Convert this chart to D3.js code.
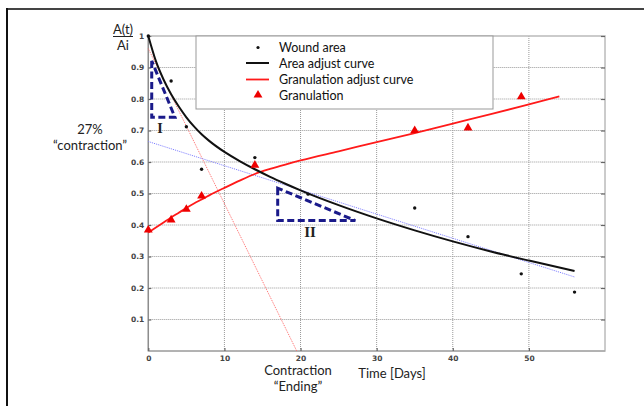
<!DOCTYPE html>
<html><head><meta charset="utf-8">
<script src="https://cdn.jsdelivr.net/npm/d3@7"></script>
<style>
html,body{margin:0;padding:0;background:#fff;}
svg{display:block;}
</style></head>
<body>
<svg id="c" width="644" height="406"></svg>
<script>
// ---- data ----
const xTicks = [0, 10, 20, 30, 40, 50];
const yTicks = [0.1, 0.2, 0.3, 0.4, 0.5, 0.6, 0.7, 0.8, 0.9, 1];
const woundDays = [0, 3, 5, 7, 14, 21, 35, 42, 49, 56];
const woundArea = [1, 0.857, 0.712, 0.577, 0.614, 0.498, 0.454, 0.363, 0.245, 0.187];
const granDays = [0, 3, 5, 7, 14, 35, 42, 49];
const granValues = [0.384, 0.416, 0.45, 0.492, 0.59, 0.70, 0.708, 0.807];
const areaFitDays = [0, 1, 2, 3, 4, 5, 6, 7, 8, 10, 12, 14, 16, 18, 20, 25, 30, 35, 40, 45, 50, 56];
const areaFitValues = [1, 0.92, 0.862, 0.815, 0.776, 0.742, 0.713, 0.688, 0.667, 0.632, 0.603, 0.577, 0.553, 0.531, 0.51, 0.463, 0.421, 0.383, 0.348, 0.316, 0.287, 0.254];
const granFitDays = [0, 1, 2, 3, 4, 5, 6, 7, 8, 10, 12, 14, 16, 18, 20, 25, 30, 35, 40, 45, 50, 54];
const granFitValues = [0.376, 0.392, 0.408, 0.424, 0.439, 0.454, 0.468, 0.481, 0.494, 0.518, 0.541, 0.562, 0.578, 0.592, 0.605, 0.634, 0.663, 0.692, 0.722, 0.752, 0.783, 0.808];
const blueTrendDays = [0, 56];
const blueTrendValues = [0.665, 0.235];
const redTrendDays = [0, 19.5];
const redTrendValues = [0.96, 0];
const triangleIDays = [0.45, 0.45, 3.5];
const triangleIValues = [0.921, 0.742, 0.742];
const triangleIIDays = [17.0, 17.0, 27.2];
const triangleIIValues = [0.517, 0.414, 0.414];
const legendLabels = ["Wound area", "Area adjust curve", "Granulation adjust curve", "Granulation"];

// ---- layout ----
const svg = d3.select("#c");
const L = 148.3, R = 605, T = 36, B = 351;
const x = d3.scaleLinear().domain([0, 60]).range([L, R]);
const y = d3.scaleLinear().domain([0, 1]).range([B, T]);
const TEXT_FONT = "Lato, 'Open Sans', sans-serif";

// outer frame (partially visible)
svg.append("line").attr("x1", 7).attr("x2", 644).attr("y1", 9).attr("y2", 9).attr("stroke", "#444").attr("stroke-width", 2);
svg.append("line").attr("x1", 7).attr("x2", 7).attr("y1", 8).attr("y2", 406).attr("stroke", "#111").attr("stroke-width", 2);

// grid
const g = svg.append("g");
g.selectAll("line.vg").data(xTicks.filter(d => d > 0)).join("line")
  .attr("x1", d => x(d)).attr("x2", d => x(d)).attr("y1", T).attr("y2", B)
  .attr("stroke", "#999").attr("stroke-width", 1).attr("stroke-dasharray", "1,1");
g.selectAll("line.hg").data(yTicks.filter(d => d < 1)).join("line")
  .attr("x1", L).attr("x2", R).attr("y1", d => y(d)).attr("y2", d => y(d))
  .attr("stroke", "#999").attr("stroke-width", 1).attr("stroke-dasharray", "1,1");

// box
svg.append("rect").attr("x", L).attr("y", T).attr("width", R - L).attr("height", B - T)
  .attr("fill", "none").attr("stroke", "#bbb").attr("stroke-width", 1.5);
svg.append("line").attr("x1", L).attr("x2", L).attr("y1", T).attr("y2", B).attr("stroke", "#888").attr("stroke-width", 1.2);
svg.append("line").attr("x1", L).attr("x2", R).attr("y1", B).attr("y2", B).attr("stroke", "#999").attr("stroke-width", 1.2);

// axes
const fmtY = d => d === 1 ? "1" : d3.format(".1f")(d);
const yAxis = d3.axisLeft(y).tickValues(yTicks).tickFormat(fmtY).tickSize(-3).tickPadding(4);
const ya = svg.append("g").attr("transform", `translate(${L},0)`).call(yAxis);
const yAxisR = d3.axisRight(y).tickValues(yTicks).tickFormat("").tickSize(-4);
const yar = svg.append("g").attr("transform", `translate(${R},0)`).call(yAxisR);
const xAxis = d3.axisBottom(x).tickValues(xTicks).tickFormat(d3.format("d")).tickSize(-3).tickPadding(5);
const xa = svg.append("g").attr("transform", `translate(0,${B})`).call(xAxis);
[ya, yar, xa].forEach(a => {
  a.select(".domain").remove();
  a.selectAll(".tick line").attr("stroke", "#666").attr("stroke-width", 1.2);
  a.selectAll("text").attr("font-family", "DejaVu Sans, sans-serif").attr("font-size", 7.5)
    .attr("font-weight", "bold").attr("fill", "#444");
});

// lines
const line = d3.line().x(d => x(d[0])).y(d => y(d[1])).curve(d3.curveMonotoneX);
const straight = d3.line().x(d => x(d[0])).y(d => y(d[1]));
const zip = (a, b) => a.map((v, i) => [v, b[i]]);

svg.append("path").datum(zip(redTrendDays, redTrendValues)).attr("d", straight)
  .attr("fill", "none").attr("stroke", "#ff6b6b").attr("stroke-width", 1).attr("stroke-dasharray", "1,1");
svg.append("path").datum(zip(blueTrendDays, blueTrendValues)).attr("d", straight)
  .attr("fill", "none").attr("stroke", "#7b7bff").attr("stroke-width", 1).attr("stroke-dasharray", "1,1");
svg.append("path").datum(zip(granFitDays, granFitValues)).attr("d", line)
  .attr("fill", "none").attr("stroke", "#ff1a1a").attr("stroke-width", 1.8);
svg.append("path").datum(zip(areaFitDays, areaFitValues)).attr("d", line)
  .attr("fill", "none").attr("stroke", "#111").attr("stroke-width", 2);

// dashed triangles
const triStyle = sel => sel.attr("fill", "none").attr("stroke", "#1a1a8a").attr("stroke-width", 3)
  .attr("stroke-dasharray", "7,3.5").attr("stroke-linejoin", "miter");
svg.append("path").datum(zip(triangleIDays, triangleIValues))
  .attr("d", d => straight(d) + "Z").call(triStyle);
svg.append("path").datum(zip(triangleIIDays, triangleIIValues))
  .attr("d", d => straight(d) + "Z").call(triStyle);
svg.append("text").attr("x", 160).attr("y", 133).attr("text-anchor", "middle")
  .attr("font-family", "Liberation Serif, serif").attr("font-size", 14).attr("font-weight", "bold").attr("fill", "#222").text("I");
svg.append("text").attr("x", 310).attr("y", 237).attr("text-anchor", "middle")
  .attr("font-family", "Liberation Serif, serif").attr("font-size", 15).attr("font-weight", "bold").attr("fill", "#222").text("II");

// points
const triSym = d3.symbol().type(d3.symbolTriangle).size(34);
svg.selectAll("path.gran").data(zip(granDays, granValues)).join("path").attr("class", "gran")
  .attr("d", triSym).attr("transform", d => `translate(${x(d[0])},${y(d[1])})`).attr("fill", "#ee0000");
svg.selectAll("circle.w").data(zip(woundDays, woundArea)).join("circle").attr("class", "w")
  .attr("cx", d => x(d[0])).attr("cy", d => y(d[1])).attr("r", 1.7).attr("fill", "#111");

// legend
const lg = svg.append("g");
lg.append("rect").attr("x", 196).attr("y", T).attr("width", 297).attr("height", 73)
  .attr("fill", "#fff").attr("stroke", "#999").attr("stroke-width", 1);
const ly = [47.5, 63, 79.5, 95];
lg.append("circle").attr("cx", 258).attr("cy", ly[0]).attr("r", 1.6).attr("fill", "#111");
lg.append("line").attr("x1", 246).attr("x2", 269).attr("y1", ly[1]).attr("y2", ly[1]).attr("stroke", "#111").attr("stroke-width", 2);
lg.append("line").attr("x1", 246).attr("x2", 269).attr("y1", ly[2]).attr("y2", ly[2]).attr("stroke", "#ff1a1a").attr("stroke-width", 1.8);
lg.append("path").attr("d", triSym).attr("transform", `translate(258,${ly[3]})`).attr("fill", "#ee0000");
lg.selectAll("text").data(legendLabels).join("text")
  .attr("x", 279).attr("y", (d, i) => ly[i] + 4.5)
  .attr("font-family", TEXT_FONT).attr("font-size", 12.5).attr("fill", "#111").text(d => d);

// annotations
const ann = (t, xx, yy) => svg.append("text").attr("x", xx).attr("y", yy)
  .attr("text-anchor", "middle").attr("font-family", TEXT_FONT).attr("font-size", 13).attr("fill", "#222").text(t);
ann("A(t)", 123, 34);
svg.append("line").attr("x1", 113).attr("x2", 133).attr("y1", 36.5).attr("y2", 36.5).attr("stroke", "#222").attr("stroke-width", 1);
ann("Ai", 123, 50);
ann("27%", 90, 134);
ann("\u201Ccontraction\u201D", 90, 150);
ann("Contraction", 298, 375);
ann("\u201CEnding\u201D", 298, 391);
ann("Time [Days]", 392, 378);
</script>
</body></html>
